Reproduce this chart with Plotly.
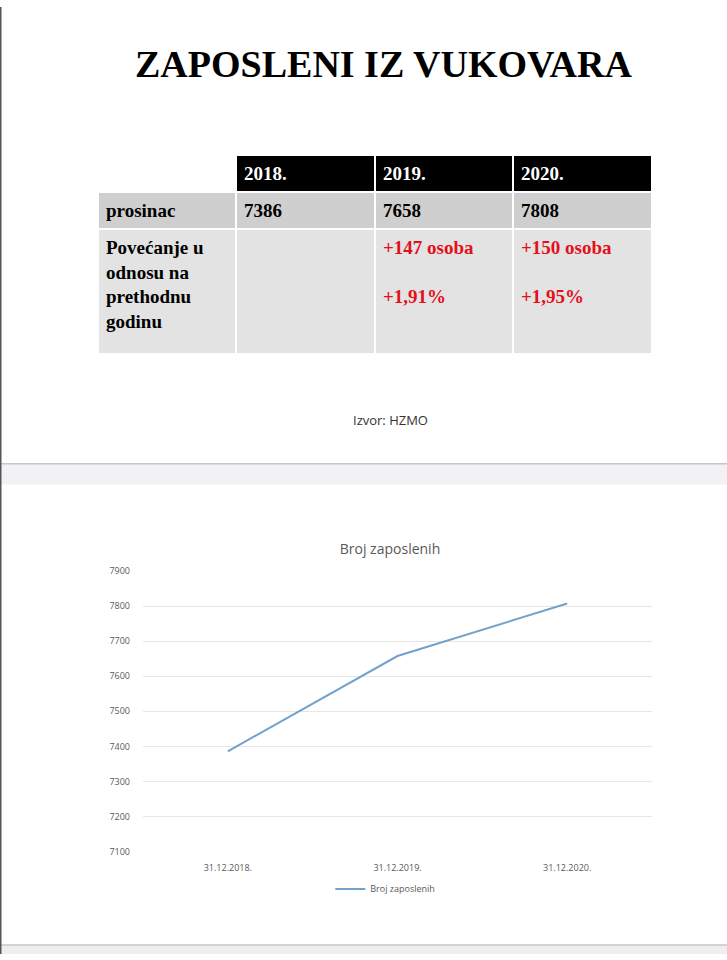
import plotly.graph_objects as go

# ---- data ----
table_years = ["2018.", "2019.", "2020."]
row_labels = ["prosinac", "Povećanje u<br>odnosu na<br>prethodnu<br>godinu"]
december_values = [7386, 7658, 7808]
increase_persons = ["", "+147 osoba", "+150 osoba"]
increase_percent = ["", "+1,91%", "+1,95%"]

chart_dates = ["31.12.2018.", "31.12.2019.", "31.12.2020."]
employed = [7386, 7658, 7808]

W, H = 727, 960
SERIF = "Liberation Serif"
SANS = "Open Sans"
RED = "#e3101c"

def b(s):
    return f"<b>{s}</b>" if s else ""

fig = go.Figure()

# ---- table ----
cell_cols = [[b(row_labels[0]), b(row_labels[1]) + "<br> "]]
cell_colors = [["black", "black"]]
for i in range(3):
    inc = ""
    if increase_persons[i]:
        inc = b(increase_persons[i]) + "<br><br>" + b(increase_percent[i])
    cell_cols.append([b(str(december_values[i])), inc])
    cell_colors.append(["black", RED])

fig.add_trace(go.Table(
    domain=dict(x=[98 / W, 652 / W], y=[1 - 351 / H, 1 - 150 / H]),
    columnwidth=[138, 139, 138, 139],
    header=dict(
        values=[""] + [b(y) for y in table_years],
        fill_color=["white", "black", "black", "black"],
        line=dict(color="white", width=2),
        font=dict(family=SERIF, size=19, color="white"),
        align="left",
        height=30,
    ),
    cells=dict(
        values=cell_cols,
        fill_color=[["#cfcfcf", "#e3e3e3"]] * 4,
        line=dict(color="white", width=2),
        font=dict(family=SERIF, size=19, color=cell_colors),
        align="left",
        height=30,
    ),
))

# ---- line chart ----
fig.add_trace(go.Scatter(
    x=chart_dates, y=employed, mode="lines",
    name="Broj zaposlenih",
    line=dict(color="#72a2cb", width=2),
    xaxis="x", yaxis="y",
))

fig.update_layout(
    width=W, height=H,
    margin=dict(l=0, r=0, t=0, b=0),
    paper_bgcolor="white", plot_bgcolor="white",
    showlegend=True,
    legend=dict(orientation="h", x=0.53, xanchor="center", y=1 - 894 / H, yanchor="middle",
                font=dict(family=SANS, size=9, color="#595959"), itemwidth=30),
    title=dict(text="Broj zaposlenih", x=390 / W, xanchor="center", y=1 - 549 / H, yanchor="middle",
               font=dict(family=SANS, size=14, color="#595959")),
    xaxis=dict(domain=[143 / W, 652 / W], type="category", range=[-0.5, 2.5],
               showgrid=False, showline=False, zeroline=False, ticks="", ticklabelstandoff=10,
               tickfont=dict(family=SANS, size=9, color="#595959")),
    yaxis=dict(domain=[1 - 856 / H, 1 - 572 / H], range=[7100, 7900], dtick=100,
               showgrid=True, gridcolor="#e6e6e6", gridwidth=1, zeroline=False,
               ticks="", ticklabelstandoff=12,
               tickfont=dict(family=SANS, size=9, color="#595959")),
    annotations=[
        dict(text="<b>ZAPOSLENI IZ VUKOVARA</b>", x=383 / W, y=1 - 58 / H, xref="paper", yref="paper",
             showarrow=False, xanchor="center", yanchor="middle",
             font=dict(family=SERIF, size=38, color="black")),
        dict(text="Izvor: HZMO", x=390 / W, y=1 - 419 / H, xref="paper", yref="paper",
             showarrow=False, xanchor="center", yanchor="middle",
             font=dict(family=SANS, size=13, color="#333333")),
    ],
    shapes=[
        dict(type="rect", xref="paper", yref="paper", x0=0, x1=1, y0=1 - 484 / H, y1=1 - 463 / H,
             fillcolor="#f2f2f5", line=dict(width=0), layer="below"),
        dict(type="line", xref="paper", yref="paper", x0=0, x1=1, y0=1 - 463 / H, y1=1 - 463 / H,
             line=dict(color="#c6c6c8", width=1.5)),
        dict(type="rect", xref="paper", yref="paper", x0=0, x1=1, y0=0, y1=1 - 951 / H,
             fillcolor="#eeeef0", line=dict(width=0), layer="below"),
        dict(type="line", xref="paper", yref="paper", x0=0, x1=1, y0=1 - 951 / H, y1=1 - 951 / H,
             line=dict(color="#c6c6c8", width=1.5)),
        dict(type="line", xref="paper", yref="paper", x0=0.75 / W, x1=0.75 / W, y0=0, y1=1,
             line=dict(color="#555555", width=1.5)),
    ],
)

fig.write_html("out.html", config={"displayModeBar": False},
               post_script="document.body.style.margin='0';document.body.style.overflow='hidden';")
